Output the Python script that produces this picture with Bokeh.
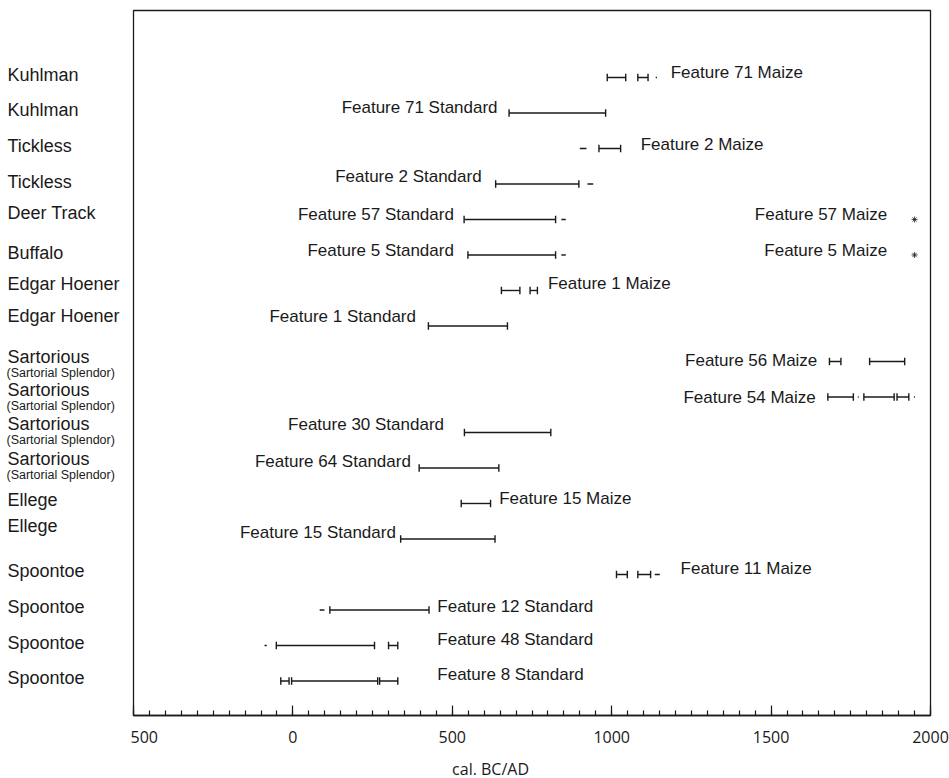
import math

from bokeh.core.properties import value
from bokeh.embed import file_html
from bokeh.layouts import column, row
from bokeh.models import ColumnDataSource, FixedTicker, Range1d
from bokeh.plotting import figure
from bokeh.resources import INLINE

# ---------------------------------------------------------------------------
# Sample rows, top to bottom
# ---------------------------------------------------------------------------
sites = ["Kuhlman", "Kuhlman", "Tickless", "Tickless", "Deer Track", "Buffalo",
         "Edgar Hoener", "Edgar Hoener", "Sartorious", "Sartorious", "Sartorious",
         "Sartorious", "Ellege", "Ellege", "Spoontoe", "Spoontoe", "Spoontoe",
         "Spoontoe"]
site_notes = ["", "", "", "", "", "", "", "",
              "(Sartorial Splendor)", "(Sartorial Splendor)",
              "(Sartorial Splendor)", "(Sartorial Splendor)",
              "", "", "", "", "", ""]

# Calibrated ranges, cal. BC/AD (negative = BC), one list per sample row
ranges = [
    [(986, 1044), (1082, 1114)],                 # Feature 71 Maize
    [(678, 981)],                                # Feature 71 Standard
    [(960, 1028)],                               # Feature 2 Maize
    [(636, 897)],                                # Feature 2 Standard
    [(537, 824)],                                # Feature 57 Standard
    [(549, 824)],                                # Feature 5 Standard
    [(654, 712), (744, 767)],                    # Feature 1 Maize
    [(425, 673)],                                # Feature 1 Standard
    [(1683, 1719), (1809, 1919)],                # Feature 56 Maize
    [(1678, 1758), (1791, 1886), (1895, 1932)],  # Feature 54 Maize
    [(538, 809)],                                # Feature 30 Standard
    [(396, 646)],                                # Feature 64 Standard
    [(528, 620)],                                # Feature 15 Maize
    [(338, 634)],                                # Feature 15 Standard
    [(1015, 1049), (1082, 1122)],                # Feature 11 Maize
    [(116, 427)],                                # Feature 12 Standard
    [(-52, 256), (300, 329)],                    # Feature 48 Standard
    [(-38, -12), (-4, 266), (272, 329)],         # Feature 8 Standard
]

# Low-probability fragments, drawn without end caps
fragments = [
    [(1138, 1142)],
    [],
    [(900, 921)],
    [(924, 942)],
    [(842, 856)],
    [(842, 856)],
    [],
    [],
    [],
    [(1772, 1775), (1948, 1951)],
    [],
    [],
    [],
    [],
    [(1135, 1151)],
    [(84, 99)],
    [(-89, -82)],
    [],
]

# Maize dates falling in the modern (post-1950) end of the curve
modern_rows = [4, 5]
modern_year = [1950, 1950]

# Feature labels and the row each one belongs to
labels = ["Feature 71 Maize", "Feature 71 Standard", "Feature 2 Maize",
          "Feature 2 Standard", "Feature 57 Standard", "Feature 57 Maize",
          "Feature 5 Standard", "Feature 5 Maize", "Feature 1 Maize",
          "Feature 1 Standard", "Feature 56 Maize", "Feature 54 Maize",
          "Feature 30 Standard", "Feature 64 Standard", "Feature 15 Maize",
          "Feature 15 Standard", "Feature 11 Maize", "Feature 12 Standard",
          "Feature 48 Standard", "Feature 8 Standard"]
label_rows = [0, 1, 2, 3, 4, 4, 5, 5, 6, 7, 8, 9, 10, 11, 12, 13, 14, 15, 16, 17]

# Axis ticks
major_ticks = [-500, 0, 500, 1000, 1500, 2000]
tick_labels = ["500", "0", "500", "1000", "1500", "2000"]
minor_step = 50
axis_title = "cal. BC/AD"

# ---------------------------------------------------------------------------
# Label placement (anchor year, alignment, vertical nudge in px)
# ---------------------------------------------------------------------------
label_at = [1185, 642, 1091, 592, 505, 1864, 505, 1864, 800, 386, 1645, 1640,
            474, 370, 647, 323, 1216, 453, 453, 453]
label_align = ["left", "right", "left", "right", "right", "right", "right",
               "right", "left", "right", "right", "right", "right", "right",
               "left", "right", "left", "left", "left", "left"]
label_dy = [-5, -5, -4, -7, -5, -5, -4, -4, -7, -9, -1, 1, -8, -6, -5, -6,
            -6, -3, -6, -6]
site_dy = [-2, -3, -2, -2, -6, -2, -6, -10, -4, -6.5, -8, -8.5, -3, -12.5,
           -3, -2.5, -2, -2.5]
title_at = 620          # centre of the axis title, in years

# ---------------------------------------------------------------------------
# Build sources
# ---------------------------------------------------------------------------
bar_x0, bar_x1, bar_y = [], [], []
for r, spans in enumerate(ranges):
    for a, b in spans:
        bar_x0.append(a)
        bar_x1.append(b)
        bar_y.append(r)
bars = ColumnDataSource(dict(x0=bar_x0, x1=bar_x1, y=bar_y))
caps = ColumnDataSource(dict(x=bar_x0 + bar_x1, y=bar_y + bar_y))

frag_x0, frag_x1, frag_y = [], [], []
for r, spans in enumerate(fragments):
    for a, b in spans:
        frag_x0.append(a)
        frag_x1.append(b)
        frag_y.append(r)
frags = ColumnDataSource(dict(x0=frag_x0, x1=frag_x1, y=frag_y))

modern = ColumnDataSource(dict(x=modern_year, y=modern_rows))

lab_src = ColumnDataSource(dict(
    x=label_at, y=label_rows, text=labels, align=label_align, dy=label_dy))

n_rows = len(sites)
y_range = Range1d(start=n_rows - 1 + 0.972, end=-1.887)
x_range = Range1d(-500, 2000)

W, TOP, BOTTOM = 949, 10, 35
FRAME_H = 705
LEFT_W = 130
FOOT_H = 778 - (TOP + FRAME_H + BOTTOM)
ink = "#1a1a1a"

# ---------------------------------------------------------------------------
# Main plot
# ---------------------------------------------------------------------------
p = figure(width=W - LEFT_W, height=TOP + FRAME_H + BOTTOM,
           output_backend="svg", toolbar_location=None,
           x_range=x_range, y_range=y_range, y_axis_location=None,
           min_border_left=3, min_border_right=19,
           min_border_top=TOP, min_border_bottom=BOTTOM)
p.xgrid.visible = False
p.ygrid.visible = False
p.outline_line_color = ink
p.outline_line_width = 1.3
p.background_fill_color = "white"
p.border_fill_color = "white"

p.segment(x0="x0", y0="y", x1="x1", y1="y", source=bars, line_color=ink,
          line_width=1.4)
p.scatter(x="x", y="y", source=caps, marker="dash", angle=math.pi / 2,
          size=7.5, line_color=ink, line_width=1.4)
p.segment(x0="x0", y0="y", x1="x1", y1="y", source=frags, line_color=ink,
          line_width=1.4)
p.scatter(x="x", y="y", source=modern, marker="asterisk", size=6,
          line_color=ink, line_width=0.8)

p.text(x="x", y="y", text="text", source=lab_src, text_align="align",
       text_baseline="middle", y_offset="dy", text_font_size="17px",
       text_font=value("Liberation Sans"), text_color=ink)

ax = p.xaxis[0]
ax.ticker = FixedTicker(
    ticks=major_ticks,
    minor_ticks=list(range(major_ticks[0], major_ticks[-1] + 1, minor_step)))
ax.major_label_overrides = {t: s for t, s in zip(major_ticks, tick_labels)}
ax.major_tick_in = 10
ax.major_tick_out = 0
ax.minor_tick_in = 5
ax.minor_tick_out = 0
ax.axis_line_color = ink
ax.axis_line_width = 1.3
ax.major_tick_line_color = ink
ax.minor_tick_line_color = ink
ax.major_tick_line_width = 1.2
ax.minor_tick_line_width = 1.2
ax.major_label_standoff = 15
ax.major_label_text_font = "Open Sans"
ax.major_label_text_font_size = "16px"
ax.major_label_text_color = ink

# ---------------------------------------------------------------------------
# Site names column
# ---------------------------------------------------------------------------
side = figure(width=LEFT_W, height=TOP + FRAME_H + BOTTOM,
              output_backend="svg", toolbar_location=None,
              x_range=Range1d(0, LEFT_W), y_range=y_range,
              x_axis_location=None, y_axis_location=None,
              min_border_left=0, min_border_right=0,
              min_border_top=TOP, min_border_bottom=BOTTOM)
side.outline_line_color = None
side.xgrid.visible = False
side.ygrid.visible = False

site_src = ColumnDataSource(dict(
    x=[7] * n_rows, y=list(range(n_rows)), text=sites, dy=site_dy))
side.text(x="x", y="y", text="text", source=site_src, text_align="left",
          text_baseline="middle", y_offset="dy", text_font_size="18px",
          text_font=value("Liberation Sans"), text_color=ink)

note_rows = [i for i, s in enumerate(site_notes) if s]
note_src = ColumnDataSource(dict(
    x=[6] * len(note_rows), y=note_rows,
    text=[site_notes[i] for i in note_rows],
    dy=[site_dy[i] + 16 for i in note_rows]))
side.text(x="x", y="y", text="text", source=note_src, text_align="left",
          text_baseline="middle", y_offset="dy", text_font_size="12.5px",
          text_font=value("Liberation Sans"), text_color=ink)

# ---------------------------------------------------------------------------
# Axis title strip under the plot, sharing the year scale
# ---------------------------------------------------------------------------
foot = figure(width=W, height=FOOT_H, output_backend="svg",
              toolbar_location=None, x_range=x_range,
              y_range=Range1d(FOOT_H, 0),
              x_axis_location=None, y_axis_location=None,
              min_border_left=LEFT_W + 3, min_border_right=19,
              min_border_top=0, min_border_bottom=0)
foot.outline_line_color = None
foot.xgrid.visible = False
foot.ygrid.visible = False
foot.text(x=[title_at], y=[FOOT_H - 10], text=[axis_title],
          text_align="center", text_baseline="middle",
          text_font=value("Open Sans"), text_font_size="16px",
          text_color=ink)

layout = column(row(side, p), foot)
open("out.html", "w").write(file_html(layout, INLINE))
